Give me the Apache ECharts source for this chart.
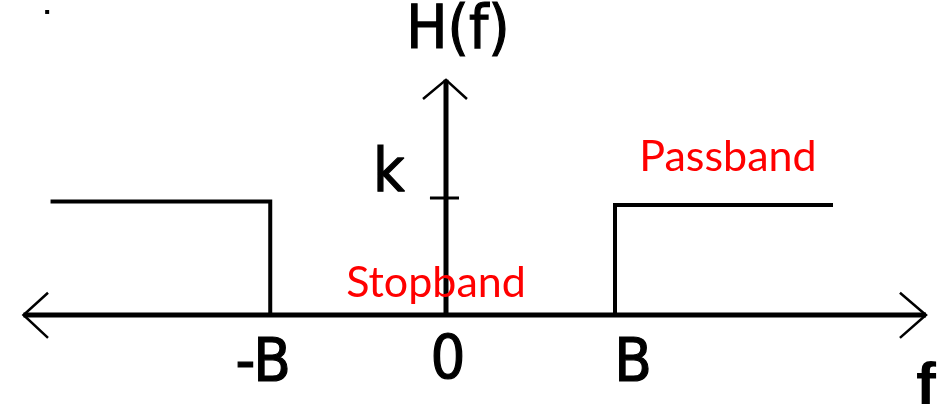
<!DOCTYPE html>
<html>
<head>
<meta charset="utf-8">
<script src="https://cdn.jsdelivr.net/npm/echarts@6/dist/echarts.min.js"></script>
<style>
  html, body { margin: 0; padding: 0; background: #fff; }
  #chart { width: 947px; height: 407px; }
</style>
</head>
<body>
<div id="chart"></div>
<script>
// frequency in units of B, gain in units of k
const passLeft = [[-2.34, 0.97], [-1.04, 0.97], [-1.04, 0]];
const passRight = [[1.0, 0], [1.0, 0.94], [2.29, 0.94]];
const fAxis = [[-2.5, 0], [2.84, 0]];
const hAxis = [[0, 0], [0, 2.01]];
const arrowLeft = [[-2.355, 0.19], [-2.5, 0], [-2.355, -0.195]];
const arrowRight = [[2.686, 0.19], [2.84, 0], [2.686, -0.195]];
const arrowUp = [[-0.136, 1.846], [0, 2.01], [0.124, 1.846]];
const kTick = [[-0.095, 1], [0.077, 1]];
const dot = [[-2.36, 2.59]];

const tickValues = [-1.04, 0, 1.0];
const tickLabels = ['-B', '0', 'B'];
const kLabel = 'k';
const yName = 'H(f)';
const xName = 'f';
const bandNames = ['Passband', 'Stopband'];

const narrow = '"Liberation Sans Narrow", "DejaVu Sans Condensed", "Liberation Sans", sans-serif';
const soft = 'Lato, "Open Sans", sans-serif';

function line(data, width) {
  return {
    type: 'line',
    data: data,
    symbol: 'none',
    clip: false,
    silent: true,
    lineStyle: { color: '#000', width: width, join: 'miter', cap: 'butt' },
    z: 2
  };
}

function txt(anchor, text, offset, style) {
  return {
    value: anchor,
    label: Object.assign({
      show: true,
      formatter: text,
      position: offset,
      align: 'center',
      verticalAlign: 'middle',
      color: '#000',
      fontFamily: narrow,
      fontSize: 61,
      textBorderColor: '#000',
      textBorderWidth: 1.2
    }, style || {})
  };
}

const redText = { color: '#ff0000', fontFamily: soft, fontSize: 43, textBorderWidth: 0 };

const tickOffsets = [[-7, 50], [2, 47], [18, 50]];
const labelData = tickValues.map((v, i) => txt([v, 0], tickLabels[i], tickOffsets[i]));
labelData.push(txt(hAxis[1], yName, [12, -48]));
labelData.push(txt([0, 1], kLabel, [-57, -23]));
labelData.push(txt(fAxis[1], xName, [0, 72], { fontWeight: 'bold', fontFamily: '"Liberation Sans", Arial, sans-serif', fontSize: 60, textBorderWidth: 0 }));
labelData.push(txt(passRight[1], bandNames[0], [113, -48], redText));
labelData.push(txt([0, 0], bandNames[1], [-10, -32], redText));

const chart = echarts.init(document.getElementById('chart'));
chart.setOption({
  animation: false,
  backgroundColor: '#fff',
  grid: { left: 6.6, right: 10.9, top: 10.8, bottom: 21.8 },
  xAxis: { type: 'value', min: -2.6, max: 2.9, show: false },
  yAxis: { type: 'value', min: -0.6, max: 2.6, show: false },
  series: [
    line(fAxis, 5),
    line(hAxis, 5),
    line(arrowLeft, 2.5),
    line(arrowRight, 2.5),
    line(arrowUp, 2.5),
    line(kTick, 3),
    line(passLeft, 4),
    line(passRight, 4),
    {
      type: 'scatter',
      data: dot,
      symbol: 'rect',
      symbolSize: 4,
      itemStyle: { color: '#000', opacity: 1 },
      silent: true,
      clip: false
    },
    {
      type: 'scatter',
      data: labelData,
      symbolSize: 0,
      itemStyle: { opacity: 1 },
      silent: true,
      clip: false,
      z: 5
    }
  ]
});
</script>
</body>
</html>
